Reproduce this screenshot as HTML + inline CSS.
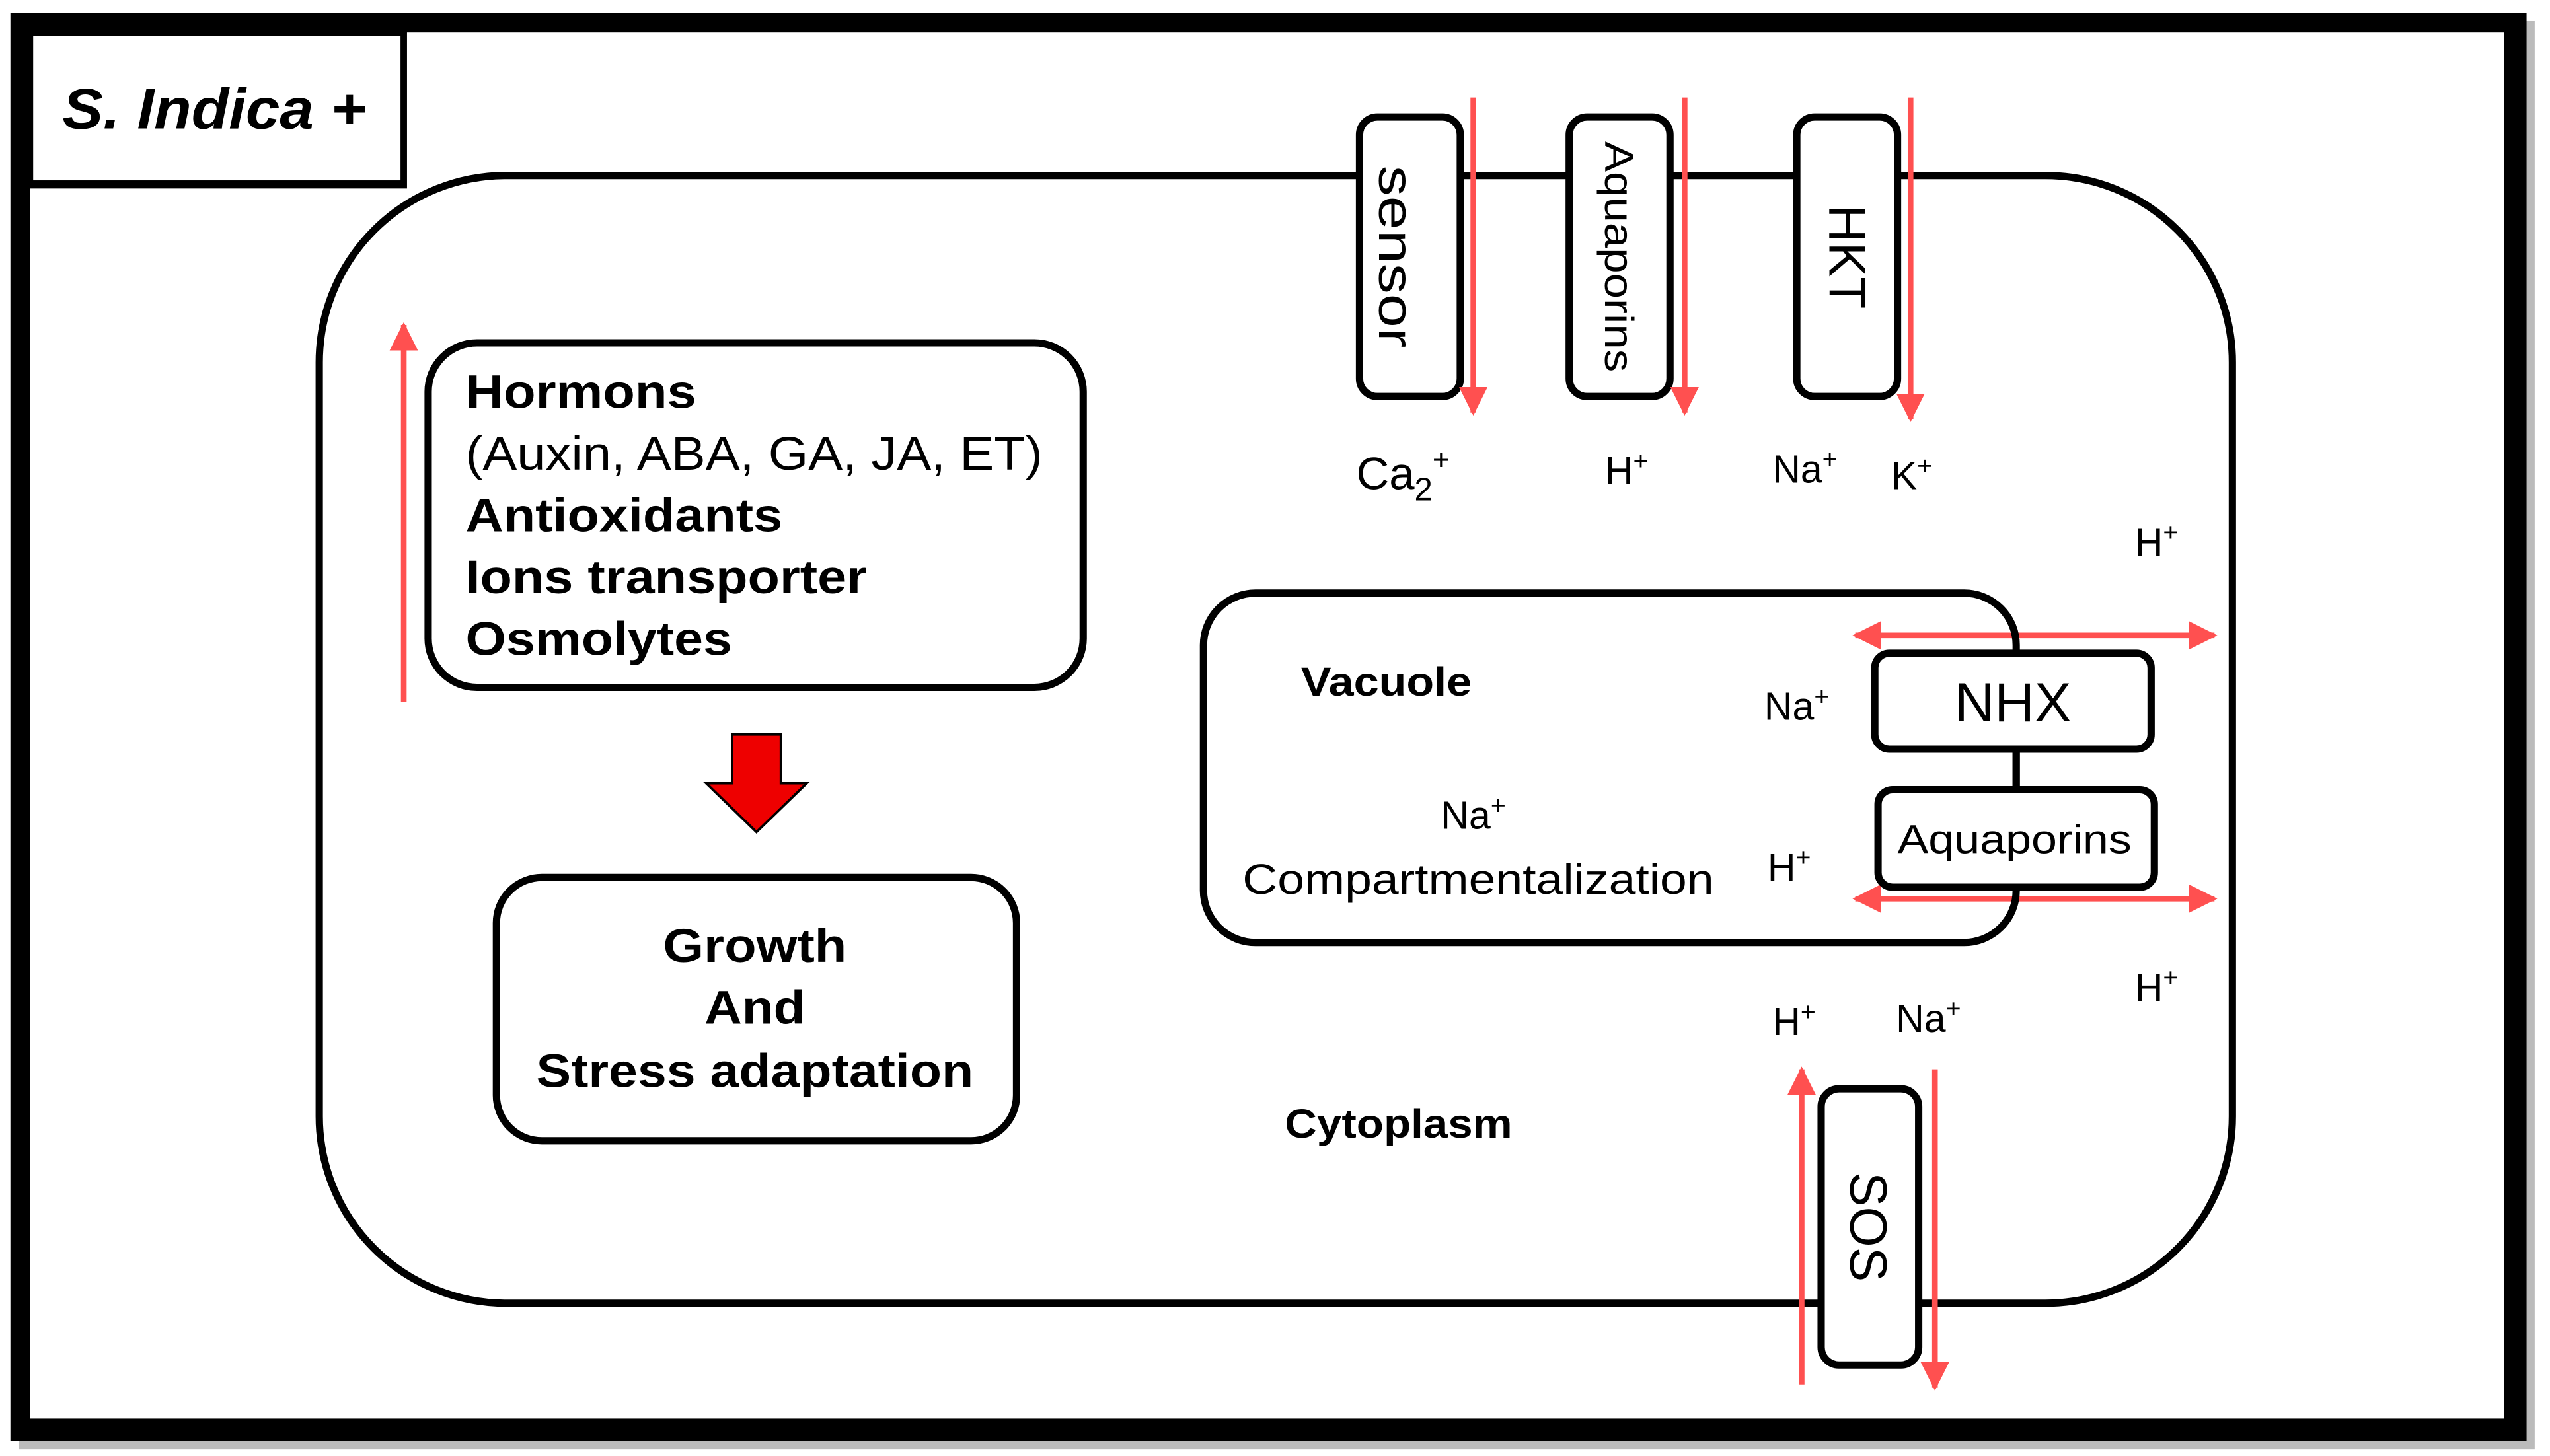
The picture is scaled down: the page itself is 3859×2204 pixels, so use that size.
<!DOCTYPE html>
<html><head><meta charset="utf-8"><style>
html,body{margin:0;padding:0;background:#fff}
svg{display:block}
text{font-family:"Liberation Sans",Arial,sans-serif;fill:#000}
.b{font-weight:bold}
</style></head><body>
<svg width="3859" height="2204" viewBox="0 0 1568 896" xmlns="http://www.w3.org/2000/svg">
<defs>
<marker id="ah" viewBox="0 0 10 10" refX="9" refY="5" markerWidth="5" markerHeight="5" markerUnits="strokeWidth" orient="auto-start-reverse">
<path d="M0,0 L10,5 L0,10 z" fill="#ff5050"/></marker>
</defs>
<rect width="1568" height="896" fill="#fff"/>
<rect x="11" y="13" width="1548" height="879" fill="#bbb"/>
<rect x="6" y="8" width="1548" height="879" fill="#000"/>
<rect x="18" y="20" width="1522" height="853" fill="#fff"/>
<rect x="18" y="18" width="232" height="98" fill="#000"/>
<rect x="20" y="22" width="226" height="89" fill="#fff"/>
<text x="38" y="79" font-size="35" font-style="italic" class="b" textLength="187" lengthAdjust="spacingAndGlyphs">S. Indica +</text>
<rect x="196" y="108" width="1177" height="694" rx="115" ry="115" fill="none" stroke="#000" stroke-width="4.5"/>
<g fill="#fff" stroke="#000" stroke-width="4.5">
<rect x="836" y="72" width="62" height="172" rx="11"/>
<rect x="965" y="72" width="62" height="172" rx="11"/>
<rect x="1105" y="72" width="62" height="172" rx="11"/>
<rect x="1120" y="670" width="60" height="170" rx="11"/>
</g>
<text transform="translate(848,158) rotate(90)" font-size="30" text-anchor="middle" textLength="112" lengthAdjust="spacingAndGlyphs">sensor</text>
<text transform="translate(987,158) rotate(90)" font-size="25" text-anchor="middle" textLength="142" lengthAdjust="spacingAndGlyphs">Aquaporins</text>
<text transform="translate(1125,158) rotate(90)" font-size="32" text-anchor="middle">HKT</text>
<text transform="translate(1138,755) rotate(90)" font-size="32" text-anchor="middle">SOS</text>
<g stroke="#ff5050" stroke-width="3.5" fill="none" marker-end="url(#ah)">
<line x1="906" y1="60" x2="906" y2="254"/>
<line x1="1036" y1="60" x2="1036" y2="254"/>
<line x1="1175" y1="60" x2="1175" y2="258"/>
<line x1="248" y1="432" x2="248" y2="200"/>
<line x1="1108" y1="852" x2="1108" y2="658"/>
<line x1="1190" y1="658" x2="1190" y2="854"/>
</g>
<g stroke="#ff5050" stroke-width="3.5" fill="none" marker-end="url(#ah)" marker-start="url(#ah)">
<line x1="1141" y1="391" x2="1362" y2="391"/>
<line x1="1141" y1="553" x2="1362" y2="553"/>
</g>
<text x="834" y="301" font-size="28">Ca<tspan font-size="20" dy="7">2</tspan><tspan font-size="18" dy="-19">+</tspan></text>
<text x="987" y="298" font-size="24">H<tspan font-size="16" dy="-9">+</tspan></text>
<text x="1090" y="297" font-size="24">Na<tspan font-size="16" dy="-9">+</tspan></text>
<text x="1163" y="301" font-size="24">K<tspan font-size="16" dy="-9">+</tspan></text>
<text x="1313" y="342" font-size="24">H<tspan font-size="16" dy="-9">+</tspan></text>
<text x="1313" y="616" font-size="24">H<tspan font-size="16" dy="-9">+</tspan></text>
<text x="1090" y="637" font-size="24">H<tspan font-size="16" dy="-9">+</tspan></text>
<text x="1166" y="635" font-size="24">Na<tspan font-size="16" dy="-9">+</tspan></text>
<rect x="263" y="211" width="403" height="212" rx="30" fill="none" stroke="#000" stroke-width="4.5"/>
<text x="286" y="251" font-size="29" class="b" textLength="142" lengthAdjust="spacingAndGlyphs">Hormons</text>
<text x="286" y="289" font-size="29" textLength="355" lengthAdjust="spacingAndGlyphs">(Auxin, ABA, GA, JA, ET)</text>
<text x="286" y="327" font-size="29" class="b" textLength="195" lengthAdjust="spacingAndGlyphs">Antioxidants</text>
<text x="286" y="365" font-size="29" class="b" textLength="247" lengthAdjust="spacingAndGlyphs">Ions transporter</text>
<text x="286" y="403" font-size="29" class="b" textLength="164" lengthAdjust="spacingAndGlyphs">Osmolytes</text>
<path d="M450,452 H480 V482 H496 L465,512 L434,482 H450 Z" fill="#ee0000" stroke="#000" stroke-width="1.5"/>
<rect x="305" y="540" width="320" height="162" rx="28" fill="none" stroke="#000" stroke-width="4.5"/>
<g font-size="29" class="b" text-anchor="middle">
<text x="464" y="592" class="b" textLength="113" lengthAdjust="spacingAndGlyphs">Growth</text>
<text x="464" y="630" class="b" textLength="62" lengthAdjust="spacingAndGlyphs">And</text>
<text x="464" y="669" class="b" textLength="269" lengthAdjust="spacingAndGlyphs">Stress adaptation</text>
</g>
<rect x="740" y="365" width="500" height="215" rx="32" fill="none" stroke="#000" stroke-width="4.5"/>
<text x="800" y="428" font-size="25" class="b" textLength="105" lengthAdjust="spacingAndGlyphs">Vacuole</text>
<text x="886" y="510" font-size="24">Na<tspan font-size="16" dy="-9">+</tspan></text>
<text x="764" y="550" font-size="26" textLength="290" lengthAdjust="spacingAndGlyphs">Compartmentalization</text>
<text x="1085" y="443" font-size="24">Na<tspan font-size="16" dy="-9">+</tspan></text>
<text x="1087" y="542" font-size="24">H<tspan font-size="16" dy="-9">+</tspan></text>
<line x1="1240" y1="461" x2="1240" y2="486" stroke="#000" stroke-width="4.5"/>
<rect x="1153" y="402" width="170" height="59" rx="9" fill="#fff" stroke="#000" stroke-width="4.5"/>
<text x="1238" y="444" font-size="34" text-anchor="middle">NHX</text>
<rect x="1155" y="486" width="170" height="60" rx="9" fill="#fff" stroke="#000" stroke-width="4.5"/>
<text x="1239" y="525" font-size="25" text-anchor="middle" textLength="144" lengthAdjust="spacingAndGlyphs">Aquaporins</text>
<text x="790" y="700" font-size="25" class="b" textLength="140" lengthAdjust="spacingAndGlyphs">Cytoplasm</text>
</svg>
</body></html>
